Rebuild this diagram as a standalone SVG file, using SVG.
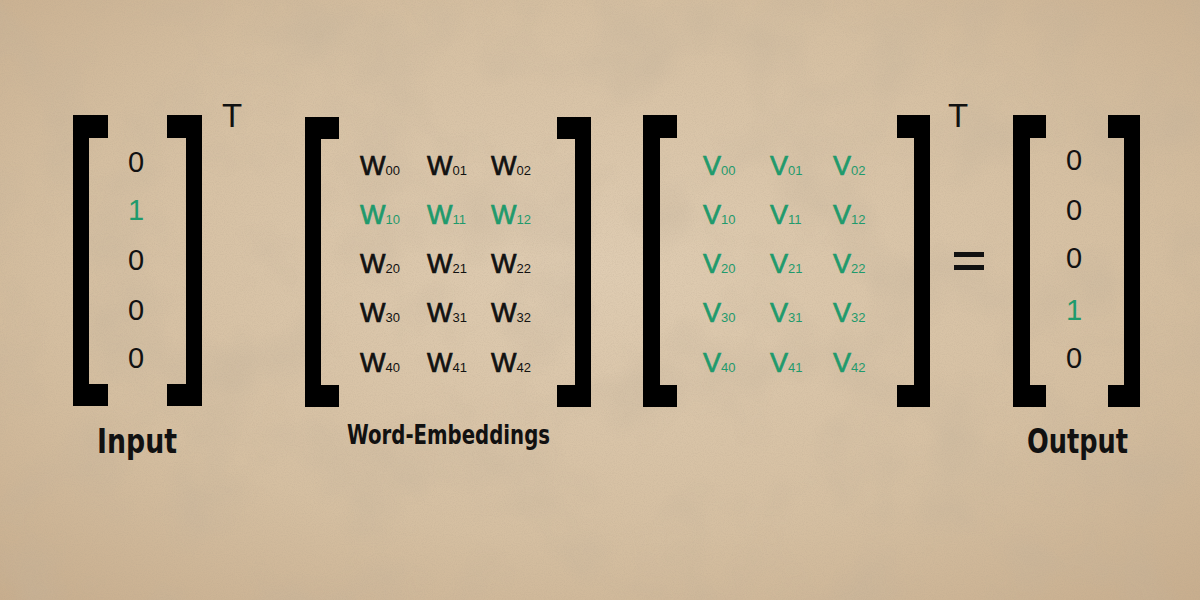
<svg xmlns="http://www.w3.org/2000/svg" width="1200" height="600" viewBox="0 0 1200 600">
<defs>
<radialGradient id="bg" cx="50%" cy="45%" r="75%">
<stop offset="0" stop-color="#dfccb2"/>
<stop offset="0.6" stop-color="#d5bfa1"/>
<stop offset="1" stop-color="#c7ad8d"/>
</radialGradient>
<filter id="grain" x="0" y="0" width="100%" height="100%">
<feTurbulence type="fractalNoise" baseFrequency="0.9" numOctaves="2" seed="3" result="n"/>
<feColorMatrix in="n" type="matrix" values="0 0 0 0 0.45  0 0 0 0 0.36  0 0 0 0 0.26  0 0 0 -1.4 0.85"/>
</filter>
<filter id="blot" x="0" y="0" width="100%" height="100%">
<feTurbulence type="fractalNoise" baseFrequency="0.012" numOctaves="3" seed="7" result="n"/>
<feColorMatrix in="n" type="matrix" values="0 0 0 0 0.55  0 0 0 0 0.45  0 0 0 0 0.33  0 0 0 -2.2 1.25"/>
</filter>
</defs>
<style>
.br{fill:#000}
.num{font-family:"Liberation Sans",Arial,sans-serif;font-size:29px;text-anchor:middle;fill:#111}
.g{fill:#1f9a6c}
.m{font-family:"Liberation Sans",Arial,sans-serif;font-size:27px;fill:#111;stroke:#111;stroke-width:0.7}
.m .s{font-size:13px;stroke-width:0}
.m .g{stroke:#1f9a6c}
.lbl{font-family:"DejaVu Sans Condensed","DejaVu Sans",sans-serif;font-weight:bold;fill:#111}
.sup{font-family:"Liberation Sans",Arial,sans-serif;font-size:33px;fill:#111}
</style>
<rect width="1200" height="600" fill="url(#bg)"/>
<rect width="1200" height="600" filter="url(#blot)" opacity="0.4"/>
<rect width="1200" height="600" filter="url(#grain)" opacity="0.3"/>

<g id="input">
<path class="br" d="M73,115H108V138H89V384H108V406H73Z"/>
<path class="br" d="M202,115H167V138H186V384H167V406H202Z"/>
<text class="num" x="136" y="172">0</text>
<text class="num g" x="136" y="220">1</text>
<text class="num" x="136" y="270">0</text>
<text class="num" x="136" y="320">0</text>
<text class="num" x="136" y="368">0</text>
<text class="sup" x="222" y="127">T</text>
<text class="lbl" x="97" y="453" font-size="34" textLength="80" lengthAdjust="spacingAndGlyphs">Input</text>
</g>

<g id="word-embeddings">
<path class="br" d="M305,117H339V139H321V385H339V407H305Z"/>
<path class="br" d="M591,117H557V139H575V385H557V407H591Z"/>
<g class="m">
<text x="360" y="175">W<tspan class="s">00</tspan></text>
<text x="427" y="175">W<tspan class="s">01</tspan></text>
<text x="491" y="175">W<tspan class="s">02</tspan></text>
<text x="360" y="224" class="g">W<tspan class="s">10</tspan></text>
<text x="427" y="224" class="g">W<tspan class="s">11</tspan></text>
<text x="491" y="224" class="g">W<tspan class="s">12</tspan></text>
<text x="360" y="273">W<tspan class="s">20</tspan></text>
<text x="427" y="273">W<tspan class="s">21</tspan></text>
<text x="491" y="273">W<tspan class="s">22</tspan></text>
<text x="360" y="322">W<tspan class="s">30</tspan></text>
<text x="427" y="322">W<tspan class="s">31</tspan></text>
<text x="491" y="322">W<tspan class="s">32</tspan></text>
<text x="360" y="372">W<tspan class="s">40</tspan></text>
<text x="427" y="372">W<tspan class="s">41</tspan></text>
<text x="491" y="372">W<tspan class="s">42</tspan></text>
</g>
<text class="lbl" x="347" y="444" font-size="27" textLength="203" lengthAdjust="spacingAndGlyphs">Word-Embeddings</text>
</g>

<g id="context-matrix">
<path class="br" d="M643,115H677V138H660V385H677V407H643Z"/>
<path class="br" d="M930,115H897V138H914V385H897V407H930Z"/>
<g class="m">
<text x="703" y="175" class="g">V<tspan class="s">00</tspan></text>
<text x="770" y="175" class="g">V<tspan class="s">01</tspan></text>
<text x="833" y="175" class="g">V<tspan class="s">02</tspan></text>
<text x="703" y="224" class="g">V<tspan class="s">10</tspan></text>
<text x="770" y="224" class="g">V<tspan class="s">11</tspan></text>
<text x="833" y="224" class="g">V<tspan class="s">12</tspan></text>
<text x="703" y="273" class="g">V<tspan class="s">20</tspan></text>
<text x="770" y="273" class="g">V<tspan class="s">21</tspan></text>
<text x="833" y="273" class="g">V<tspan class="s">22</tspan></text>
<text x="703" y="322" class="g">V<tspan class="s">30</tspan></text>
<text x="770" y="322" class="g">V<tspan class="s">31</tspan></text>
<text x="833" y="322" class="g">V<tspan class="s">32</tspan></text>
<text x="703" y="372" class="g">V<tspan class="s">40</tspan></text>
<text x="770" y="372" class="g">V<tspan class="s">41</tspan></text>
<text x="833" y="372" class="g">V<tspan class="s">42</tspan></text>
</g>
<text class="sup" x="948" y="127">T</text>
</g>

<g id="equals">
<rect x="954" y="252" width="30" height="5" fill="#111"/>
<rect x="954" y="265" width="30" height="5" fill="#111"/>
</g>

<g id="output">
<path class="br" d="M1013,115H1046V138H1030V385H1046V407H1013Z"/>
<path class="br" d="M1140,115H1108V138H1124V385H1108V407H1140Z"/>
<text class="num" x="1074" y="170">0</text>
<text class="num" x="1074" y="220">0</text>
<text class="num" x="1074" y="268">0</text>
<text class="num g" x="1074" y="320">1</text>
<text class="num" x="1074" y="368">0</text>
<text class="lbl" x="1027" y="453" font-size="34" textLength="101" lengthAdjust="spacingAndGlyphs">Output</text>
</g>
</svg>
